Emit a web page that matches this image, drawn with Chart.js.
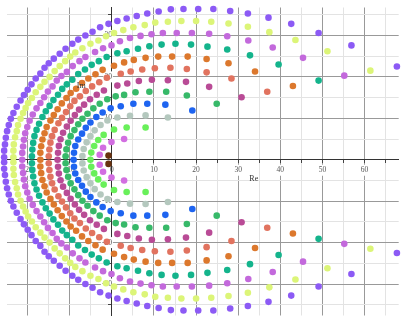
<!DOCTYPE html>
<html><head><meta charset="utf-8">
<script src="https://cdn.jsdelivr.net/npm/chart.js@4.4.0/dist/chart.umd.min.js"></script>
<style>html,body{margin:0;padding:0;background:#fff;overflow:hidden}</style>
</head><body>
<canvas id="c" width="402" height="323"></canvas>
<script>
// ---- data (zeros; upper half then lower half) ----
const purpleRe = [67.7,56.9,49.1,42.6,37.2,32.3,28.1,24.1,20.5,17.0,14.0,11.1,8.4,5.9,3.5,1.3,-0.8,-2.8,-4.6,-6.3,-8.0,-9.4,-11.0,-12.4,-13.8,-15.0,-16.0,-17.0,-18.1,-19.1,-20.0,-20.9,-21.7,-22.6,-23.4,-24.0,-24.5,-24.9,-25.2,-25.4,-25.6,-25.6,
  67.7,56.9,49.1,42.6,37.2,32.3,28.1,24.1,20.5,17.0,14.0,11.1,8.4,5.9,3.5,1.3,-0.8,-2.8,-4.6,-6.3,-8.0,-9.4,-11.0,-12.4,-13.8,-15.0,-16.0,-17.0,-18.1,-19.1,-20.0,-20.9,-21.7,-22.6,-23.4,-24.0,-24.5,-24.9,-25.2,-25.4,-25.6,-25.6];
const purpleIm = [22.5,27.6,30.6,32.8,34.3,35.3,35.9,36.4,36.4,36.4,36.3,35.8,35.3,34.7,34.1,33.5,32.8,32.0,30.9,30.0,29.0,28.0,26.8,25.6,24.4,23.3,22.2,20.8,19.6,18.2,16.9,15.6,14.3,12.8,11.3,9.9,8.4,6.9,5.3,3.7,2.2,0.6,
  -22.5,-27.6,-30.6,-32.8,-34.3,-35.3,-35.9,-36.4,-36.4,-36.4,-36.3,-35.8,-35.3,-34.7,-34.1,-33.5,-32.8,-32.0,-30.9,-30.0,-29.0,-28.0,-26.8,-25.6,-24.4,-23.3,-22.2,-20.8,-19.6,-18.2,-16.9,-15.6,-14.3,-12.8,-11.3,-9.9,-8.4,-6.9,-5.3,-3.7,-2.2,-0.6];

const yellowRe = [61.4,51.2,43.6,37.4,32.3,27.7,23.6,20.0,16.5,13.3,10.3,7.8,5.1,2.7,0.5,-1.4,-3.2,-5.1,-7.0,-8.7,-9.9,-11.1,-12.4,-13.6,-14.8,-16.0,-17.0,-18.1,-19.0,-19.9,-20.5,-21.1,-21.7,-22.3,-22.6,-23.0,-23.3,-23.4,-23.4,
  61.4,51.2,43.6,37.4,32.3,27.7,23.6,20.0,16.5,13.3,10.3,7.8,5.1,2.7,0.5,-1.4,-3.2,-5.1,-7.0,-8.7,-9.9,-11.1,-12.4,-13.6,-14.8,-16.0,-17.0,-18.1,-19.0,-19.9,-20.5,-21.1,-21.7,-22.3,-22.6,-23.0,-23.3,-23.4,-23.4];
const yellowIm = [21.5,26.2,28.9,30.8,32.1,32.9,33.3,33.5,33.5,33.3,33.1,32.5,32.0,31.3,30.6,29.8,28.8,28.0,26.9,25.9,24.9,23.8,22.6,21.4,20.0,18.8,17.6,16.3,14.9,13.7,12.5,11.3,9.9,8.4,6.9,5.4,3.7,2.2,0.6,
  -21.5,-26.2,-28.9,-30.8,-32.1,-32.9,-33.3,-33.5,-33.5,-33.3,-33.1,-32.5,-32.0,-31.3,-30.6,-29.8,-28.8,-28.0,-26.9,-25.9,-24.9,-23.8,-22.6,-21.4,-20.0,-18.8,-17.6,-16.3,-14.9,-13.7,-12.5,-11.3,-9.9,-8.4,-6.9,-5.4,-3.7,-2.2,-0.6];

const orchidRe = [55.2,45.4,38.2,32.4,27.4,23.1,19.0,15.4,12.1,9.4,6.8,4.3,1.9,-0.1,-2.1,-4.0,-6.3,-7.7,-9.3,-10.7,-12.0,-13.1,-14.1,-15.2,-16.1,-17.0,-17.9,-18.8,-19.55,-20.1,-20.6,-20.9,-21.1,-21.3,-21.3,
  55.2,45.4,38.2,32.4,27.4,23.1,19.0,15.4,12.1,9.4,6.8,4.3,1.9,-0.1,-2.1,-4.0,-6.3,-7.7,-9.3,-10.7,-12.0,-13.1,-14.1,-15.2,-16.1,-17.0,-17.9,-18.8,-19.55,-20.1,-20.6,-20.9,-21.1,-21.3];
const orchidIm = [20.3,24.6,27.1,28.8,29.8,30.4,30.6,30.6,30.6,30.3,29.9,29.4,28.6,27.6,26.9,26.0,24.8,23.8,22.6,21.2,20.2,19.1,17.7,16.45,15.1,13.7,12.4,10.9,9.4,7.9,6.4,4.8,3.2,1.65,0,
  -20.3,-24.6,-27.1,-28.8,-29.8,-30.4,-30.6,-30.6,-30.6,-30.3,-29.9,-29.4,-28.6,-27.6,-26.9,-26.0,-24.8,-23.8,-22.6,-21.2,-20.2,-19.1,-17.7,-16.45,-15.1,-13.7,-12.4,-10.9,-9.4,-7.9,-6.4,-4.8,-3.2,-1.65];

const tealRe = [49.1,39.6,32.8,27.4,22.7,18.8,15.1,11.8,8.9,6.2,3.5,1.3,-1.25,-3.1,-4.8,-6.4,-8.0,-9.4,-10.7,-11.8,-12.8,-13.9,-14.8,-15.7,-16.5,-17.3,-17.9,-18.4,-18.7,-18.9,-19.0,
  49.1,39.6,32.8,27.4,22.7,18.8,15.1,11.8,8.9,6.2,3.5,1.3,-1.25,-3.1,-4.8,-6.4,-8.0,-9.4,-10.7,-11.8,-12.8,-13.9,-14.8,-15.7,-16.5,-17.3,-17.9,-18.4,-18.7,-18.9,-19.0];
const tealIm = [19.1,23.0,25.2,26.6,27.3,27.8,28.0,27.8,27.4,26.8,26.2,25.7,24.8,23.8,22.9,21.8,20.7,19.3,18.2,17.1,15.7,14.4,13.0,11.7,10.3,8.7,7.2,5.7,4.06,2.45,0.84,
  -19.1,-23.0,-25.2,-26.6,-27.3,-27.8,-28.0,-27.8,-27.4,-26.8,-26.2,-25.7,-24.8,-23.8,-22.9,-21.8,-20.7,-19.3,-18.2,-17.1,-15.7,-14.4,-13.0,-11.7,-10.3,-8.7,-7.2,-5.7,-4.06,-2.45,-0.84];

const orangeRe = [43.0,34.0,27.7,22.5,18.0,14.3,11.0,8.0,5.2,2.9,0.5,-2.2,-3.9,-5.6,-7.1,-8.5,-9.8,-10.8,-11.9,-12.9,-13.8,-14.6,-15.5,-16.0,-16.5,-16.8,-17.0,-17.0,
  43.0,34.0,27.7,22.5,18.0,14.3,11.0,8.0,5.2,2.9,0.5,-2.2,-3.9,-5.6,-7.1,-8.5,-9.8,-10.8,-11.9,-12.9,-13.8,-14.6,-15.5,-16.0,-16.5,-16.8,-17.0];
const orangeIm = [17.8,21.3,23.3,24.3,24.9,24.9,24.9,24.6,24.1,23.5,22.7,21.7,20.65,19.6,18.5,17.15,16.1,14.9,13.6,12.2,10.8,9.45,7.9,6.4,4.9,3.24,1.66,0,
  -17.8,-21.3,-23.3,-24.3,-24.9,-24.9,-24.9,-24.6,-24.1,-23.5,-22.7,-21.7,-20.65,-19.6,-18.5,-17.15,-16.1,-14.9,-13.6,-12.2,-10.8,-9.45,-7.9,-6.4,-4.9,-3.24,-1.66];

const salmonRe = [36.9,28.4,22.5,17.8,13.9,10.2,7.2,4.45,2.1,-1.2,-3.0,-4.7,-6.2,-7.6,-8.9,-9.9,-10.9,-11.85,-12.7,-13.6,-14.2,-14.6,-14.85,-15.0,
  36.9,28.4,22.5,17.8,13.9,10.2,7.2,4.45,2.1,-1.2,-3.0,-4.7,-6.2,-7.6,-8.9,-9.9,-10.9,-11.85,-12.7,-13.6,-14.2,-14.6,-14.85,-15.0];
const salmonIm = [16.4,19.6,21.1,21.9,22.2,22.1,21.8,21.3,20.75,19.8,18.7,17.7,16.6,15.3,14.2,12.9,11.5,10.1,8.8,7.2,5.7,4.13,2.46,0.85,
  -16.4,-19.6,-21.1,-21.9,-22.2,-22.1,-21.8,-21.3,-20.75,-19.8,-18.7,-17.7,-16.6,-15.3,-14.2,-12.9,-11.5,-10.1,-8.8,-7.2,-5.7,-4.13,-2.46,-0.85];

const magentaRe = [30.8,23.1,17.6,13.3,9.5,6.4,3.65,1.3,-1.9,-3.6,-5.2,-6.6,-7.8,-8.8,-9.8,-10.7,-11.6,-12.2,-12.6,-12.8,-12.9,
  30.8,23.1,17.6,13.3,9.5,6.4,3.65,1.3,-1.9,-3.6,-5.2,-6.6,-7.8,-8.8,-9.8,-10.7,-11.6,-12.2,-12.6,-12.8];
const magentaIm = [15.1,17.6,18.8,19.2,19.3,19.0,18.4,17.9,16.7,15.7,14.6,13.3,12.1,10.8,9.4,8.0,6.5,4.95,3.34,1.68,0,
  -15.1,-17.6,-18.8,-19.2,-19.3,-19.0,-18.4,-17.9,-16.7,-15.7,-14.6,-13.3,-12.1,-10.8,-9.4,-8.0,-6.5,-4.95,-3.34,-1.68];

const greenRe = [24.9,17.8,12.9,8.9,5.6,2.9,0.9,-1.1,-2.9,-4.4,-5.8,-7.0,-8.0,-8.9,-9.8,-10.4,-10.8,-11.0,
  24.9,17.8,12.9,8.9,5.6,2.9,0.9,-1.1,-2.9,-4.4,-5.8,-7.0,-8.0,-8.9,-9.8,-10.4,-10.8,-11.0];
const greenIm = [13.5,15.5,16.4,16.4,16.3,15.65,15.3,14.6,13.5,12.4,11.1,9.9,8.55,7.15,5.7,4.1,2.5,0.85,
  -13.5,-15.5,-16.4,-16.4,-16.3,-15.65,-15.3,-14.6,-13.5,-12.4,-11.1,-9.9,-8.55,-7.15,-5.7,-4.1,-2.5,-0.85];

const blueRe = [19.1,12.7,8.4,5.1,2.1,-0.3,-2.2,-3.7,-5.1,-6.2,-7.1,-8.0,-8.7,-9.0,-9.1,
  19.1,12.7,8.4,5.1,2.1,-0.3,-2.2,-3.7,-5.1,-6.2,-7.1,-8.0,-8.7,-9.0];
const blueIm = [11.9,13.3,13.5,13.5,12.9,12.4,11.4,10.3,9.0,7.7,6.3,4.9,3.33,1.68,0,
  -11.9,-13.3,-13.5,-13.5,-12.9,-12.4,-11.4,-10.3,-9.0,-7.7,-6.3,-4.9,-3.33,-1.68];

const grayRe = [13.3,8.0,4.3,1.3,-1.06,-2.7,-4.1,-5.1,-6.0,-6.7,-7.0,
  13.3,8.0,4.3,1.3,-1.06,-2.7,-4.1,-5.1,-6.0,-6.7,-7.0];
const grayIm = [10.2,10.7,10.6,10.2,9.5,8.4,7.1,5.7,4.2,2.6,0.88,
  -10.2,-10.7,-10.6,-10.2,-9.5,-8.4,-7.1,-5.7,-4.2,-2.6,-0.88];

const limeRe = [8.0,3.5,0.5,-1.96,-3.25,-4.2,-4.9,-5.1,
  8.0,3.5,0.5,-1.96,-3.25,-4.2,-4.9];
const limeIm = [7.8,7.8,7.3,6.0,4.75,3.3,1.72,0,
  -7.8,-7.8,-7.3,-6.0,-4.75,-3.3,-1.72];

const pinkRe = [2.9,-0.1,-2.1,-2.9, 2.9,-0.1,-2.1,-2.9];
const pinkIm = [5.0,4.3,2.9,1.2, -5.0,-4.3,-2.9,-1.2];

const brownRe = [-0.8,-0.8];
const brownIm = [1.0,-1.0];

const xTicksMajor = [-20,-10,0,10,20,30,40,50,60];
const yTicksMajor = [-30,-20,-10,10,20,30];
const axisNames = ['Re','Im'];
const reNamePos = [33.7,-4.7];
const imNamePos = [-7.3,17.9];

// ---- series styling ----
const series = [
  {re: purpleRe,  im: purpleIm,  color:'#8c5af5'},
  {re: yellowRe,  im: yellowIm,  color:'#dcf578'},
  {re: orchidRe,  im: orchidIm,  color:'#c369dc'},
  {re: tealRe,    im: tealIm,    color:'#14b48c'},
  {re: orangeRe,  im: orangeIm,  color:'#dc782d'},
  {re: salmonRe,  im: salmonIm,  color:'#e1735f'},
  {re: magentaRe, im: magentaIm, color:'#b94b96'},
  {re: greenRe,   im: greenIm,   color:'#37b969'},
  {re: blueRe,    im: blueIm,    color:'#1e64f0'},
  {re: grayRe,    im: grayIm,    color:'#b4c8be'},
  {re: limeRe,    im: limeIm,    color:'#69f05a'},
  {re: pinkRe,    im: pinkIm,    color:'#d26ee1'},
  {re: brownRe,   im: brownIm,   color:'#69320f'}
];

const isMajor = v => Math.abs(v % 10) < 1e-6;
const serif = "'Liberation Serif', 'DejaVu Serif', serif";

const bgPlugin = {
  id: 'bg',
  beforeDraw(chart) {
    const {ctx} = chart;
    ctx.save(); ctx.fillStyle = '#fff';
    ctx.fillRect(0, 0, chart.width, chart.height); ctx.restore();
  }
};
const namesPlugin = {
  id: 'names',
  afterDraw(chart) {
    const {ctx, scales: {x, y}} = chart;
    ctx.save();
    ctx.font = "8px " + serif;
    ctx.fillStyle = '#333';
    ctx.textAlign = 'center'; ctx.textBaseline = 'middle';
    ctx.fillText(axisNames[0], x.getPixelForValue(reNamePos[0]), y.getPixelForValue(reNamePos[1]));
    ctx.fillText(axisNames[1], x.getPixelForValue(imNamePos[0]), y.getPixelForValue(imNamePos[1]));
    ctx.restore();
  }
};

new Chart(document.getElementById('c'), {
  type: 'scatter',
  data: {
    datasets: series.map(s => ({
      data: s.re.map((v, i) => ({x: v, y: s.im[i]})),
      backgroundColor: s.color,
      borderWidth: 0,
      pointRadius: 3.3,
      pointHoverRadius: 3.3,
      clip: false
    }))
  },
  options: {
    responsive: false,
    animation: false,
    events: [],
    layout: {padding: {left: 7, top: 7, right: 0, bottom: 0}},
    plugins: {legend: {display: false}, tooltip: {enabled: false}},
    scales: {
      x: {
        type: 'linear', min: -24.92, max: 68.13,
        position: {y: 0},
        afterFit: s => { s.height = 0; },
        ticks: {
          stepSize: 5, includeBounds: false, autoSkip: false, maxRotation: 0, padding: 3,
          color: '#555', font: {family: serif, size: 7.5},
          callback: v => (xTicksMajor.includes(v) ? String(v) : ''),
          showLabelBackdrop: c => xTicksMajor.includes(c.tick.value),
          backdropColor: '#fff', backdropPadding: 1
        },
        grid: {
          color: c => (c.tick && isMajor(c.tick.value)) ? '#999999' : '#e3e3e3',
          lineWidth: 1, tickLength: 3, tickColor: '#444', tickWidth: 1
        },
        border: {display: true, color: '#333', width: 1}
      },
      y: {
        type: 'linear', min: -37.6, max: 36.75,
        position: {x: 0},
        afterFit: s => { s.width = 0; },
        ticks: {
          stepSize: 5, includeBounds: false, autoSkip: false, padding: 3,
          color: '#555', font: {family: serif, size: 7.5},
          callback: v => (yTicksMajor.includes(v) ? String(v) : ''),
          showLabelBackdrop: c => yTicksMajor.includes(c.tick.value),
          backdropColor: '#fff', backdropPadding: 1
        },
        grid: {
          color: c => (c.tick && isMajor(c.tick.value)) ? '#999999' : '#e3e3e3',
          lineWidth: 1, tickLength: 3, tickColor: '#444', tickWidth: 1
        },
        border: {display: true, color: '#333', width: 1}
      }
    }
  },
  plugins: [bgPlugin, namesPlugin]
});
</script>
</body></html>
